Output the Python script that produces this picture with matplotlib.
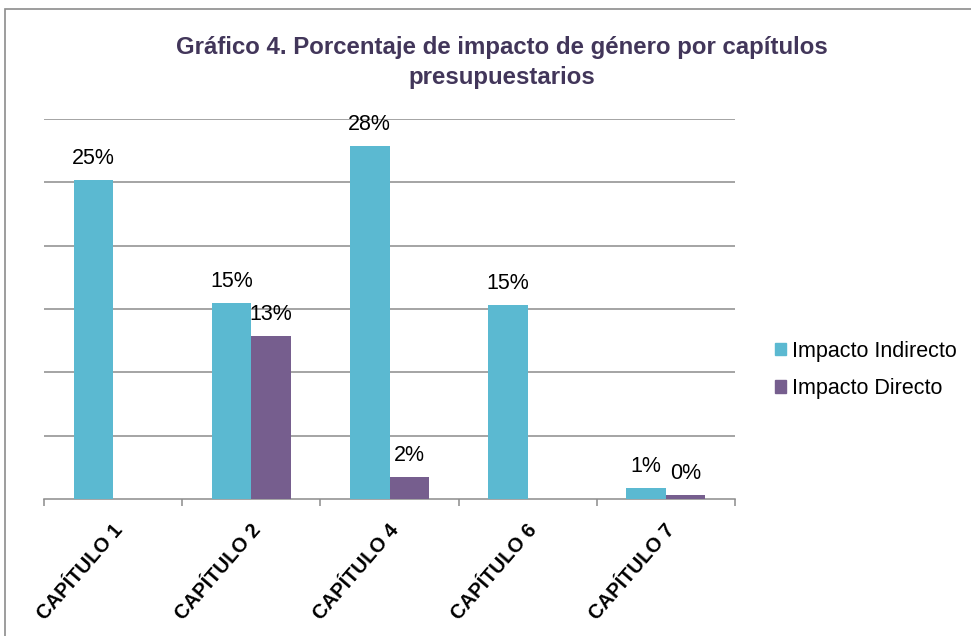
import matplotlib.pyplot as plt
import numpy as np
from matplotlib.patches import Patch, Rectangle
from matplotlib.transforms import ScaledTranslation

plt.rcParams['font.family'] = ['Liberation Sans', 'DejaVu Sans']

capitulos = ['CAPÍTULO 1', 'CAPÍTULO 2', 'CAPÍTULO 4', 'CAPÍTULO 6', 'CAPÍTULO 7']
indirecto = [25.16, 15.47, 27.85, 15.34, 0.86]
directo = [np.nan, 12.84, 1.75, np.nan, 0.34]
series_names = ['Impacto Indirecto', 'Impacto Directo']
titulo = ['Gráfico 4. Porcentaje de impacto de género por capítulos', 'presupuestarios']

col_ind = '#5BB9D1'
col_dir = '#765E8E'
grid_col = '#8C8C8C'

fig = plt.figure(figsize=(9.71, 6.36), dpi=100)
ax = fig.add_axes([44 / 971, 1 - 499.3 / 636, 691 / 971, 380.6 / 636])

x = np.arange(len(capitulos))
w = 0.286
b1 = ax.bar(x - w / 2, indirecto, w, color=col_ind, zorder=3)
b2 = ax.bar(x + w / 2, directo, w, color=col_dir, zorder=3)

for bars, vals in ((b1, indirecto), (b2, directo)):
    for rect, v in zip(bars, vals):
        if np.isnan(v):
            continue
        ax.annotate('%.0f%%' % v, (rect.get_x() + rect.get_width() / 2, v),
                    xytext=(0, 11.5), textcoords='offset points',
                    ha='center', va='baseline', fontsize=15.5, color='black')

ax.set_xlim(-0.5, len(capitulos) - 0.5)
ax.set_ylim(0, 30)
ax.set_yticks(np.arange(5, 31, 5))
ax.yaxis.grid(True, color=grid_col, linewidth=1.1, zorder=0)
ax.tick_params(axis='y', length=0, labelleft=False)
for s in ('left', 'right', 'top'):
    ax.spines[s].set_visible(False)
ax.spines['bottom'].set_color(grid_col)
ax.spines['bottom'].set_linewidth(1.1)

ax.set_xticks(x)
ax.set_xticklabels(capitulos, rotation=49, ha='right', va='center',
                   rotation_mode='anchor', fontsize=14.5, fontweight='bold')
ax.tick_params(axis='x', which='major', length=0, pad=20)
# nudge the rotated labels a little to the right, like the original
shift = ScaledTranslation(6 / 100, 0, fig.dpi_scale_trans)
for lab in ax.get_xticklabels():
    lab.set_transform(lab.get_transform() + shift)
ax.set_xticks(np.arange(-0.5, len(capitulos)), minor=True)
ax.tick_params(axis='x', which='minor', length=5, width=1.1, color=grid_col)

fig.text(502 / 971, 1 - 54 / 636, titulo[0], ha='center', va='baseline',
         fontsize=17.3, fontweight='bold', color='#42365A')
fig.text(502 / 971, 1 - 84 / 636, titulo[1], ha='center', va='baseline',
         fontsize=17.3, fontweight='bold', color='#42365A')

handles = [Patch(color=col_ind), Patch(color=col_dir)]
fig.legend(handles, series_names, loc='center left',
           bbox_to_anchor=(775 / 971, 1 - 370 / 636), frameon=False,
           fontsize=15.5, handlelength=0.5, handleheight=0.5,
           handletextpad=0.28, labelspacing=0.75, borderpad=0, borderaxespad=0)

fig.patches.append(Rectangle((5 / 971, -0.1), 1.2, 1.1 - 9 / 636,
                             transform=fig.transFigure, fill=False,
                             edgecolor='#8C8C8C', linewidth=1.2))

fig.savefig('out.png', dpi=100)
